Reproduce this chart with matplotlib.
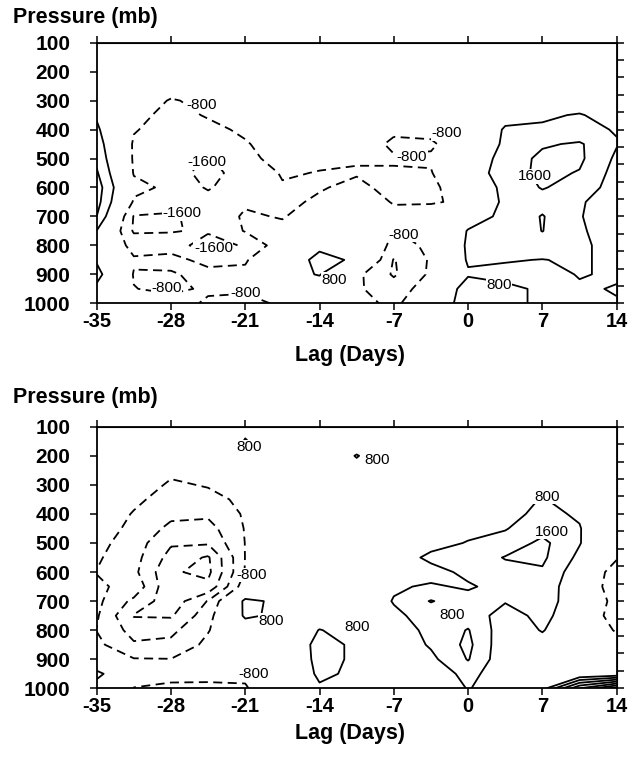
import matplotlib.pyplot as plt
import numpy as np

plt.rcParams['font.family'] = ['Liberation Sans', 'DejaVu Sans']
plt.rcParams['axes.unicode_minus'] = False

lags = [-35, -31.5, -28, -24.5, -21, -17.5, -14, -10.5, -7, -3.5, 0, 3.5, 7, 10.5, 14]
pressure = [100, 150, 200, 250, 300, 350, 400, 450, 500, 550,
            600, 650, 700, 750, 800, 850, 900, 950, 1000]

# one list per lag, values from 100 mb down to 1000 mb
top_values = [
    [200, 200, 200, 300, 400, 700, 950, 1200, 1400, 1700, 2000, 1900, 1600, 780, 300, 700, 1100, 600, 300],
    [100, 0, -100, -200, -400, -600, -750, -900, -900, -850, -600, -900, -1650, -1700, -1100, -700, -850, -780, -400],
    [0, -100, -250, -500, -850, -1000, -1100, -1200, -1300, -1200, -950, -1300, -1700, -1650, -1200, -500, -900, -950, -500],
    [-100, -200, -300, -450, -650, -750, -950, -1200, -1700, -1900, -1700, -1200, -1300, -1500, -2000, -1100, -500, -700, -900],
    [-100, -150, -200, -300, -400, -550, -700, -850, -950, -1200, -1000, -900, -700, -750, -1500, -900, -600, -700, -1000],
    [-100, -100, -150, -200, -250, -300, -400, -500, -600, -750, -850, -950, -850, -600, -300, 300, 500, -300, -700],
    [-50, -50, -100, -150, -200, -300, -400, -550, -700, -820, -850, -700, -400, 100, 650, 1000, 850, 300, 0],
    [0, 0, -50, -100, -150, -250, -350, -500, -750, -850, -650, -400, 0, 600, 500, 700, -600, -700, -500],
    [0, 0, 0, -100, -200, -400, -700, -900, -750, -850, -1000, -850, -600, -850, -1100, -1650, -1700, -1200, -1000],
    [0, 50, 50, 0, -100, -300, -600, -900, -700, -850, -1000, -850, -500, -300, -650, -700, -650, -400, 0],
    [0, 0, 100, 100, 0, -100, -200, -300, 200, 300, -200, -700, 400, 850, 950, 900, 700, 1300, 1300],
    [0, 0, 50, 100, 200, 500, 900, 1000, 1100, 1200, 1100, 1100, 1000, 1000, 1000, 850, 600, 950, 1100],
    [0, 0, 100, 200, 350, 700, 900, 1500, 1800, 1800, 1650, 1300, 1650, 1620, 1200, 780, 500, 700, 600],
    [0, 50, 100, 250, 400, 850, 1000, 1700, 1750, 1550, 1300, 900, 850, 900, 950, 900, 850, 700, 500],
    [0, 50, 100, 200, 350, 500, 750, 850, 650, 500, 400, 300, 300, 400, 500, 600, 700, 850, 750],
]

bottom_values = [
    [0, 0, 0, -50, -100, -200, -300, -400, -550, -700, -820, -700, -600, -700, -820, -600, -300, 1100, 300],
    [0, -50, -100, -200, -400, -650, -850, -1000, -1200, -1300, -1400, -1000, -1800, -2450, -1900, -1500, -750, -500, -820],
    [0, -100, -300, -650, -900, -1100, -1400, -1800, -2300, -2700, -3100, -3100, -2900, -2500, -1800, -1400, -780, -650, -900],
    [-100, -200, -400, -600, -750, -1000, -1450, -1900, -2300, -3300, -3400, -3000, -1550, -1100, -850, -600, -500, -600, -950],
    [600, 850, 300, -400, -600, -650, -700, -750, -780, -780, -750, -300, 1000, 950, 200, 0, -300, -700, -850],
    [200, 200, 100, 0, -100, -150, -200, -250, -300, -300, -200, 0, 600, 600, 300, 200, 100, -100, -300],
    [100, 100, 50, 0, 0, -50, -100, -100, -50, 0, 0, 100, 200, 500, 820, 1000, 1000, 950, 700],
    [200, 300, 850, 500, 300, 100, 0, 50, 100, 100, 0, 0, 100, 300, 600, 700, 700, 650, 300],
    [100, 100, 100, 50, 0, 0, 0, 100, 200, 300, 400, 700, 850, 650, 400, 200, 0, -100, -100],
    [0, 0, 50, 100, 100, 150, 200, 300, 500, 1000, 500, 900, 1650, 1100, 1000, 900, 600, 200, 0],
    [0, 0, 100, 150, 200, 300, 400, 550, 850, 1100, 1000, 700, 1100, 1200, 1650, 1800, 1650, 1100, 850],
    [0, 50, 100, 150, 250, 400, 550, 750, 1100, 1650, 1300, 1100, 850, 500, 300, 200, 200, 200, 300],
    [100, 200, 200, 300, 500, 850, 1000, 1300, 1800, 1750, 1500, 1200, 1100, 1000, 850, 500, 300, 200, 400],
    [100, 100, 150, 200, 300, 450, 700, 850, 850, 600, 300, 300, 400, 300, 100, 0, -100, -200, 4000],
    [0, 0, 0, 0, -50, -100, -200, -300, -400, -700, -1300, -1500, -1200, -1400, -900, -400, -200, 0, 6000],
]

levels = [-3200, -2400, -1600, -800, 800, 1600, 2400, 3200, 4000, 4800, 5600]

x_ticks = [-35, -28, -21, -14, -7, 0, 7, 14]
y_ticks = [100, 200, 300, 400, 500, 600, 700, 800, 900, 1000]

# contour labels: (text, lag, pressure)
top_labels = [('-800', -25.1, 315), ('-1600', -24.6, 513), ('-1600', -27, 689),
              ('-1600', -24, 810), ('-800', -28.4, 948), ('-800', -21, 965),
              ('-800', -2, 413), ('-800', -5.3, 494), ('1600', 6.3, 562),
              ('-800', -6.1, 764), ('800', -12.6, 919), ('800', 2.9, 937)]
bottom_labels = [('800', -20.6, 171), ('-800', -20.4, 610), ('800', -18.6, 768),
                 ('-800', -20.2, 951), ('800', -8.6, 215), ('800', -10.5, 788),
                 ('800', 7.4, 341), ('1600', 7.9, 461), ('800', -1.5, 748)]


def draw_panel(ax, values, labels):
    z = np.array(values).T
    styles = [(0, (5, 3)) if lv < 0 else 'solid' for lv in levels]
    ax.contour(lags, pressure, z, levels=levels, colors='k',
               linewidths=1.3, linestyles=styles)
    for txt, x, y in labels:
        ax.text(x, y, txt, fontsize=11, ha='center', va='center',
                bbox=dict(facecolor='white', edgecolor='none', pad=0.3))

    ax.set_xlim(-35, 14)
    ax.set_ylim(1000, 100)
    ax.set_xticks(x_ticks)
    ax.set_yticks(y_ticks)
    ax.tick_params(axis='x', direction='out', length=5, width=1.1, pad=1, labelsize=14.5)
    ax.tick_params(axis='y', direction='out', length=5, width=1.1, pad=14, labelsize=15)
    for lab in ax.get_xticklabels() + ax.get_yticklabels():
        lab.set_fontweight('bold')
    for s in ax.spines.values():
        s.set_linewidth(1.3)

    top = ax.secondary_xaxis('top')
    top.set_xticks(x_ticks)
    top.tick_params(direction='out', length=5, width=1.1, labeltop=False)
    right = ax.secondary_yaxis('right')
    right.set_yticks(np.linspace(100, 1000, 16))
    right.tick_params(direction='out', length=5, width=1.1, labelright=False)


fig = plt.figure(figsize=(6.29, 7.57), dpi=100)
ax1 = fig.add_axes([0.1537, 0.5993, 0.8267, 0.3443])
ax2 = fig.add_axes([0.1537, 0.0907, 0.8267, 0.3456])

draw_panel(ax1, top_values, top_labels)
draw_panel(ax2, bottom_values, bottom_labels)

fig.text(0.02, 1 - 18 / 757, 'Pressure (mb)', fontsize=15.5, fontweight='bold', va='center')
fig.text(0.02, 1 - 397 / 757, 'Pressure (mb)', fontsize=15.5, fontweight='bold', va='center')
fig.text(0.556, 1 - 355 / 757, 'Lag (Days)', fontsize=15.5, fontweight='bold', ha='center', va='center')
fig.text(0.556, 1 - 734 / 757, 'Lag (Days)', fontsize=15.5, fontweight='bold', ha='center', va='center')

fig.savefig('out.png', dpi=100)
